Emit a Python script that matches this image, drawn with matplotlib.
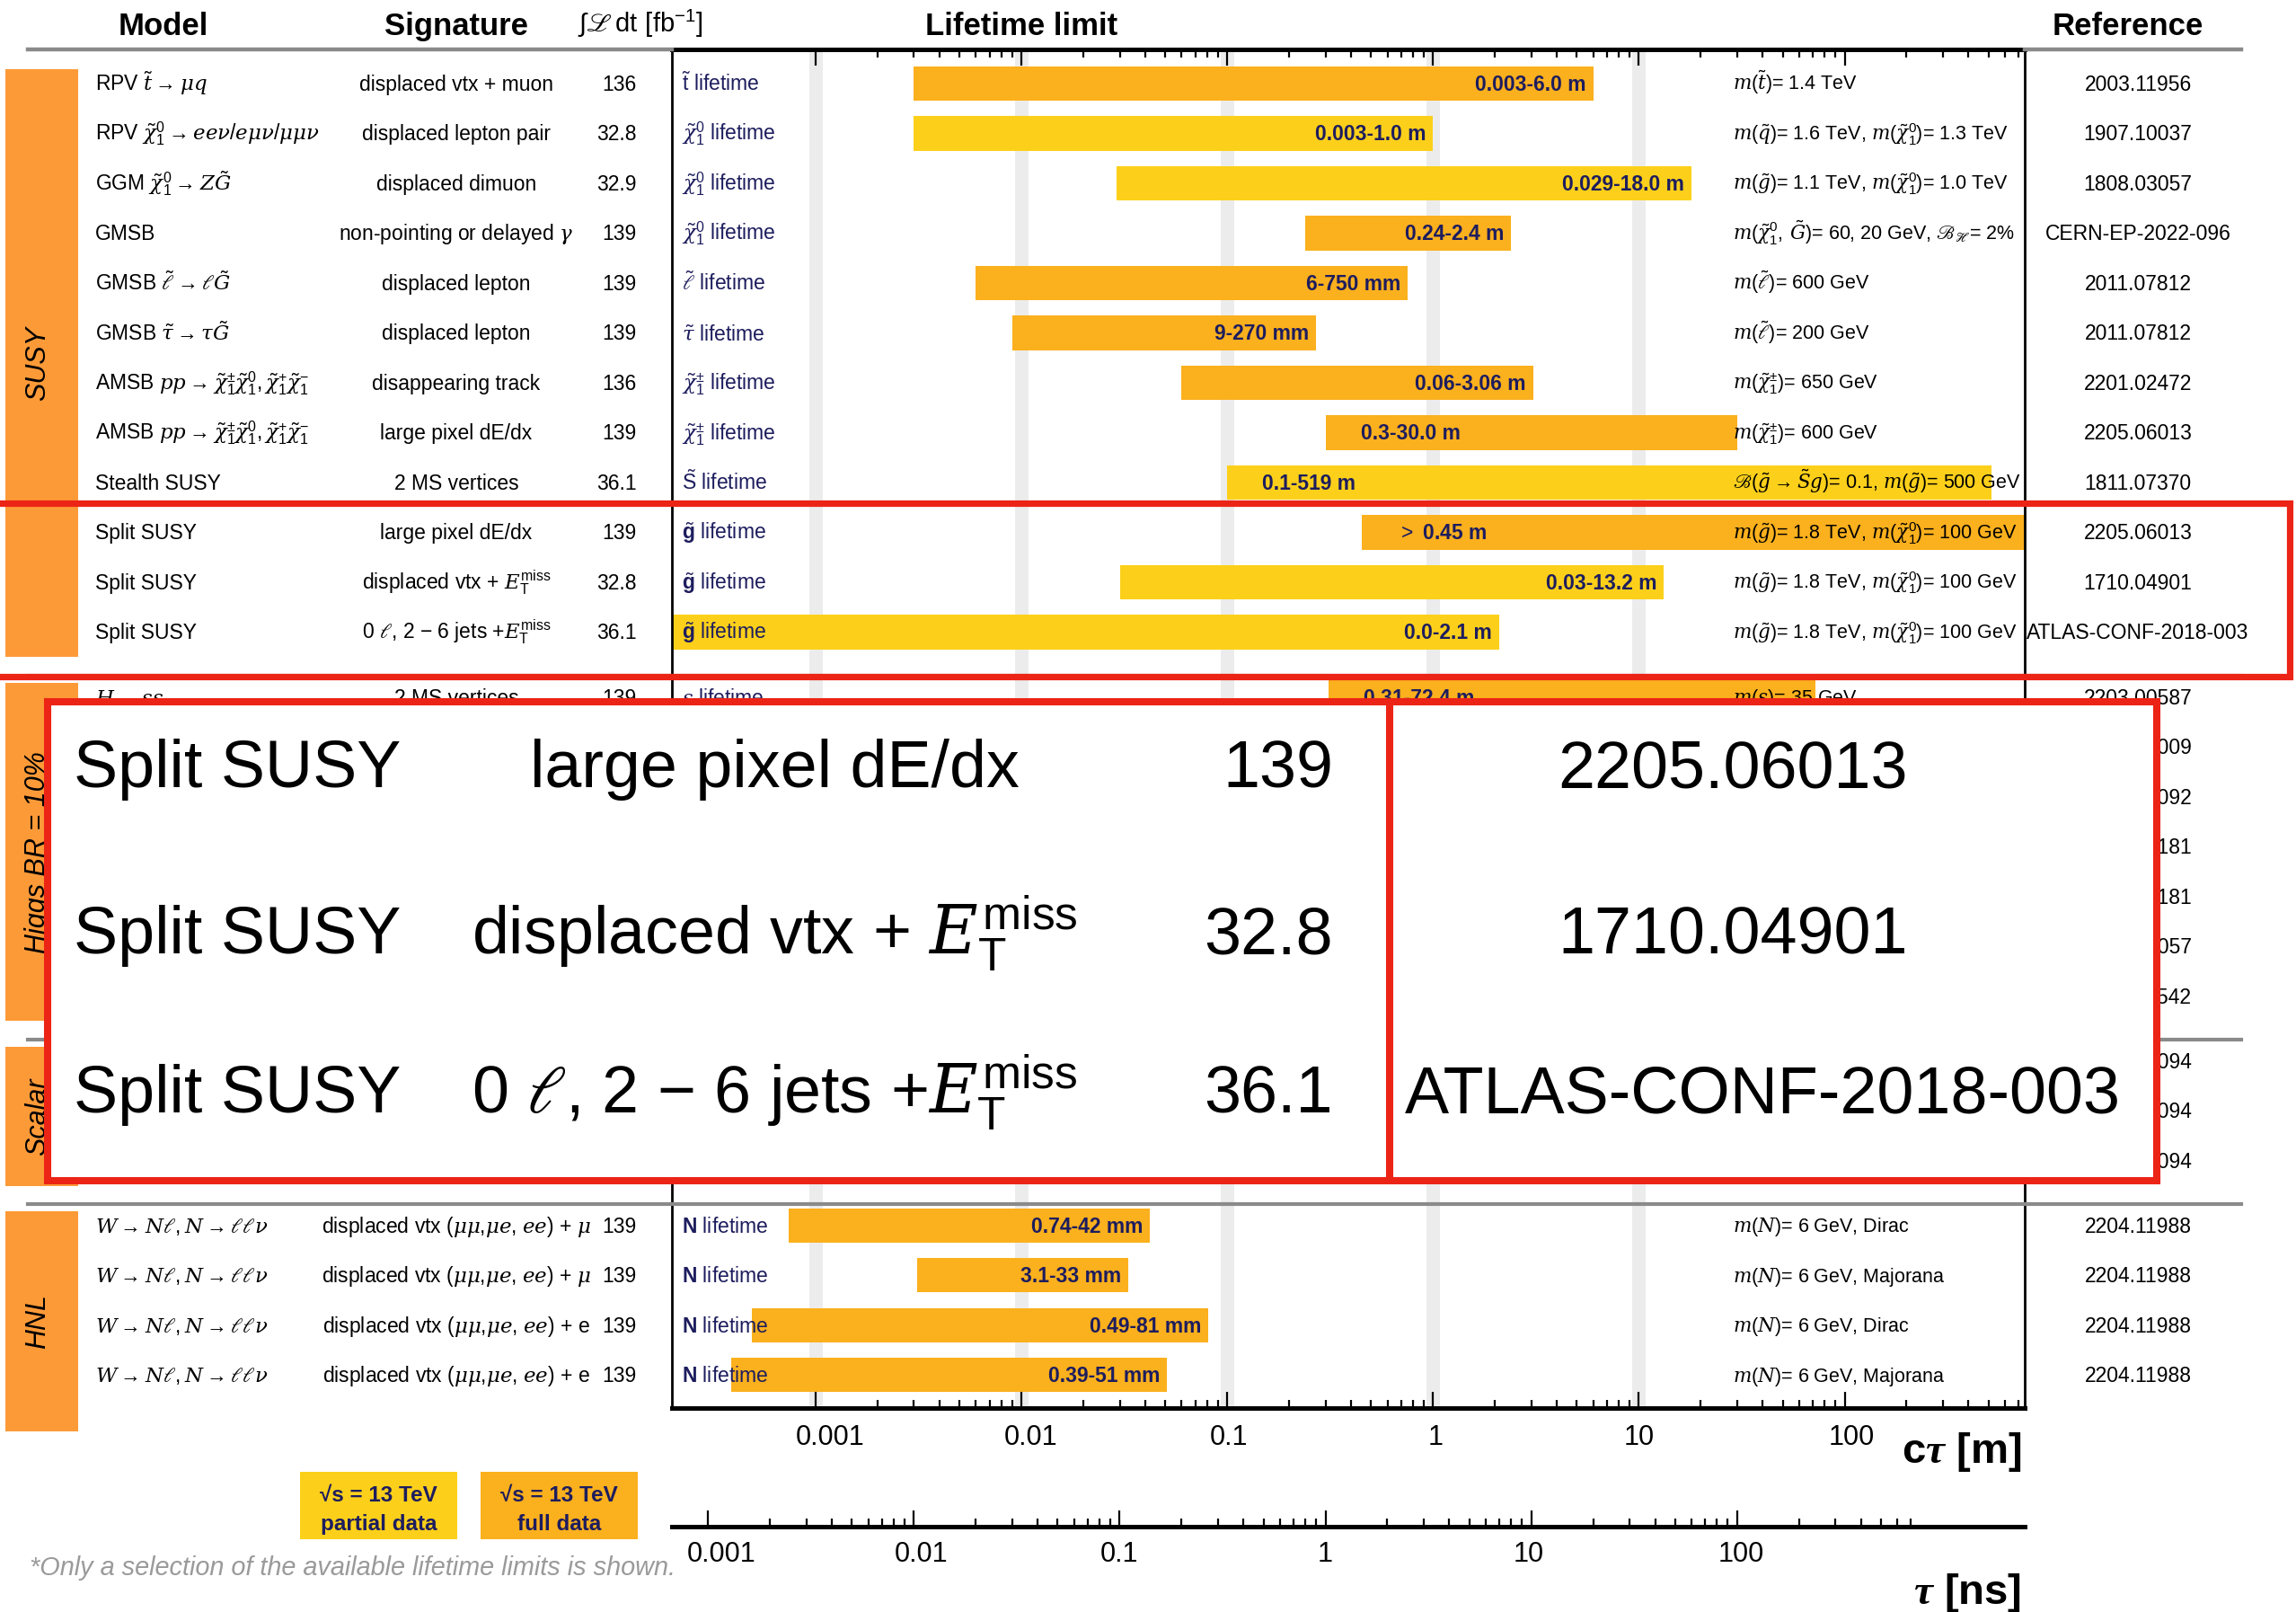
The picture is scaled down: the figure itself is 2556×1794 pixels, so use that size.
import numpy as np
import matplotlib
matplotlib.use("Agg")
import matplotlib.pyplot as plt
import matplotlib.transforms as mtrans
from matplotlib.patches import Rectangle
from matplotlib.lines import Line2D
from matplotlib.ticker import NullFormatter

plt.rcParams["font.family"] = ["Liberation Sans", "DejaVu Sans"]
plt.rcParams["mathtext.fontset"] = "custom"
plt.rcParams["mathtext.rm"] = "Liberation Sans"
plt.rcParams["mathtext.it"] = "DejaVu Serif:italic"
plt.rcParams["mathtext.bf"] = "Liberation Sans:bold"
plt.rcParams["mathtext.fallback"] = "stix"
try:
    plt.rcParams["mathtext.bfit"] = "Liberation Serif:italic:bold"
except KeyError:
    pass

# ---------------------------------------------------------------- data
sections = ["SUSY", "Higgs BR = 10%", "Scalar", "HNL"]
section_sizes = [12, 7, 3, 4]

models = [
    r"RPV $\tilde{t}\rightarrow\mu q$",
    r"RPV $\tilde{\chi}^{0}_{1}\rightarrow ee\nu/e\mu\nu/\mu\mu\nu$",
    r"GGM $\tilde{\chi}^{0}_{1}\rightarrow Z\tilde{G}$",
    "GMSB",
    r"GMSB $\tilde{\ell}\rightarrow\ell\tilde{G}$",
    r"GMSB $\tilde{\tau}\rightarrow\tau\tilde{G}$",
    r"AMSB $pp\rightarrow\tilde{\chi}^{\pm}_{1}\tilde{\chi}^{0}_{1},\tilde{\chi}^{+}_{1}\tilde{\chi}^{-}_{1}$",
    r"AMSB $pp\rightarrow\tilde{\chi}^{\pm}_{1}\tilde{\chi}^{0}_{1},\tilde{\chi}^{+}_{1}\tilde{\chi}^{-}_{1}$",
    "Stealth SUSY",
    "Split SUSY", "Split SUSY", "Split SUSY",
    r"$H\rightarrow ss$",
    r"$H\rightarrow ss$",
    r"$VH$, $H\rightarrow ss\rightarrow bbbb$",
    r"FRVZ $H\rightarrow 2\gamma_d+X$",
    r"FRVZ $H\rightarrow 4\gamma_d+X$",
    r"$H\rightarrow Z_dZ_d$",
    r"$H\rightarrow ZZ_d$",
    r"$\Phi$(200 GeV) $\rightarrow ss$",
    r"$\Phi$(600 GeV) $\rightarrow ss$",
    r"$\Phi$(1 TeV) $\rightarrow ss$",
    r"$W\rightarrow N\ell, N\rightarrow\ell\ell\nu$",
    r"$W\rightarrow N\ell, N\rightarrow\ell\ell\nu$",
    r"$W\rightarrow N\ell, N\rightarrow\ell\ell\nu$",
    r"$W\rightarrow N\ell, N\rightarrow\ell\ell\nu$",
]
signatures = [
    "displaced vtx + muon",
    "displaced lepton pair",
    "displaced dimuon",
    r"non-pointing or delayed $\gamma$",
    "displaced lepton",
    "displaced lepton",
    "disappearing track",
    "large pixel dE/dx",
    "2 MS vertices",
    "large pixel dE/dx",
    r"displaced vtx + $E_{\mathrm{T}}^{\mathrm{miss}}$",
    r"0 $\ell$, 2 $-$ 6 jets +$E_{\mathrm{T}}^{\mathrm{miss}}$",
    "2 MS vertices",
    "low-EMF trk-less jets",
    "1 ID vertex",
    r"2 $e$-, $\mu$-jets",
    r"2 $e$-, $\mu$-jets",
    "displaced dimuon",
    r"2 $e$, $\mu$ + low-EMF trk-less jet",
    "low-EMF trk-less jets",
    "low-EMF trk-less jets",
    "low-EMF trk-less jets",
    r"displaced vtx ($\mu\mu$,$\mu e$, $ee$) + $\mu$",
    r"displaced vtx ($\mu\mu$,$\mu e$, $ee$) + $\mu$",
    r"displaced vtx ($\mu\mu$,$\mu e$, $ee$) + e",
    r"displaced vtx ($\mu\mu$,$\mu e$, $ee$) + e",
]
lumis = ["136", "32.8", "32.9", "139", "139", "139", "136", "139", "36.1",
         "139", "32.8", "36.1",
         "139", "139", "139", "139", "139", "32.9", "36.1",
         "10.8", "10.8", "10.8",
         "139", "139", "139", "139"]
particles = [
    r"$\tilde{\mathrm{t}}$ lifetime",
    r"$\tilde{\chi}^{0}_{1}$ lifetime",
    r"$\tilde{\chi}^{0}_{1}$ lifetime",
    r"$\tilde{\chi}^{0}_{1}$ lifetime",
    r"$\tilde{\ell}$ lifetime",
    r"$\tilde{\tau}$ lifetime",
    r"$\tilde{\chi}^{\pm}_{1}$ lifetime",
    r"$\tilde{\chi}^{\pm}_{1}$ lifetime",
    r"$\tilde{\mathrm{S}}$ lifetime",
    r"$\tilde{\mathbf{g}}$ lifetime",
    r"$\tilde{\mathbf{g}}$ lifetime",
    r"$\tilde{\mathbf{g}}$ lifetime",
    r"$s$ lifetime", r"$s$ lifetime", r"$s$ lifetime",
    r"$\gamma_d$ lifetime", r"$\gamma_d$ lifetime",
    r"$Z_d$ lifetime", r"$Z_d$ lifetime",
    r"$s$ lifetime", r"$s$ lifetime", r"$s$ lifetime",
    r"$\mathbf{N}$ lifetime", r"$\mathbf{N}$ lifetime",
    r"$\mathbf{N}$ lifetime", r"$\mathbf{N}$ lifetime",
]
# c*tau limits in metres
ctau_lo = [0.003, 0.003, 0.029, 0.24, 0.006, 0.009, 0.06, 0.3, 0.1,
           0.45, 0.03, 0.0,
           0.31, 0.19, 0.004, 0.000654, 0.001871, 0.009, 0.21,
           0.41, 0.04, 0.06,
           0.00074, 0.0031, 0.00049, 0.00039]
ctau_hi = [6.0, 1.0, 18.0, 2.4, 0.75, 0.27, 3.06, 30.0, 519.0,
           np.inf, 13.2, 2.1,
           72.4, 6.94, 0.1, 0.939, 1.008, 24.0, 5.2,
           7.81, 21.5, 52.4,
           0.042, 0.033, 0.081, 0.051]
range_labels = ["0.003-6.0 m", "0.003-1.0 m", "0.029-18.0 m", "0.24-2.4 m",
                "6-750 mm", "9-270 mm", "0.06-3.06 m", "0.3-30.0 m", "0.1-519 m",
                r"$>$ 0.45 m", "0.03-13.2 m", "0.0-2.1 m",
                "0.31-72.4 m", "0.19-6.94 m", "4-100 mm", "0.654-939 mm",
                "1.871-1008 mm", "0.009-24.0 m", "0.21-5.2 m",
                "0.41-7.81 m", "0.04-21.5 m", "0.06-52.4 m",
                "0.74-42 mm", "3.1-33 mm", "0.49-81 mm", "0.39-51 mm"]
full_data = [True, False, False, True, True, True, True, True, False,
             True, False, False,
             True, True, True, True, True, False, False,
             False, False, False,
             True, True, True, True]
conditions = [
    r"$m(\tilde{t})$= 1.4 TeV",
    r"$m(\tilde{q})$= 1.6 TeV, $m(\tilde{\chi}^{0}_{1})$= 1.3 TeV",
    r"$m(\tilde{g})$= 1.1 TeV, $m(\tilde{\chi}^{0}_{1})$= 1.0 TeV",
    r"$m(\tilde{\chi}^{0}_{1},\,\tilde{G})$= 60, 20 GeV, $ℬ_{ℋ}$= 2%",
    r"$m(\tilde{\ell})$= 600 GeV",
    r"$m(\tilde{\ell})$= 200 GeV",
    r"$m(\tilde{\chi}^{\pm}_{1})$= 650 GeV",
    r"$m(\tilde{\chi}^{\pm}_{1})$= 600 GeV",
    r"$ℬ(\tilde{g}\rightarrow\tilde{S}g)$= 0.1, $m(\tilde{g})$= 500 GeV",
    r"$m(\tilde{g})$= 1.8 TeV, $m(\tilde{\chi}^{0}_{1})$= 100 GeV",
    r"$m(\tilde{g})$= 1.8 TeV, $m(\tilde{\chi}^{0}_{1})$= 100 GeV",
    r"$m(\tilde{g})$= 1.8 TeV, $m(\tilde{\chi}^{0}_{1})$= 100 GeV",
    r"$m(s)$= 35 GeV", r"$m(s)$= 35 GeV", r"$m(s)$= 55 GeV",
    r"$m(\gamma_d)$= 400 MeV", r"$m(\gamma_d)$= 400 MeV",
    r"$m(Z_d)$= 40 GeV", r"$m(Z_d)$= 10 GeV",
    r"$m(s)$= 50 GeV", r"$m(s)$= 50 GeV", r"$m(s)$= 150 GeV",
    r"$m(N)$= 6 GeV, Dirac", r"$m(N)$= 6 GeV, Majorana",
    r"$m(N)$= 6 GeV, Dirac", r"$m(N)$= 6 GeV, Majorana",
]
references = ["2003.11956", "1907.10037", "1808.03057", "CERN-EP-2022-096",
              "2011.07812", "2011.07812", "2201.02472", "2205.06013", "1811.07370",
              "2205.06013", "1710.04901", "ATLAS-CONF-2018-003",
              "2203.00587", "2203.01009", "2107.06092", "2206.12181",
              "2206.12181", "1808.03057", "1811.02542",
              "1902.03094", "1902.03094", "1902.03094",
              "2204.11988", "2204.11988", "2204.11988", "2204.11988"]

# magnified inset (Split SUSY rows)
inset_models = ["Split SUSY", "Split SUSY", "Split SUSY"]
inset_signatures = ["large pixel dE/dx",
                    r"displaced vtx + $E_{\mathrm{T}}^{\mathrm{miss}}$",
                    r"0 $\ell$, 2 $-$ 6 jets +$E_{\mathrm{T}}^{\mathrm{miss}}$"]
inset_lumis = ["139", "32.8", "36.1"]
inset_refs = ["2205.06013", "1710.04901", "ATLAS-CONF-2018-003"]

ctau_ticks = [0.001, 0.01, 0.1, 1, 10, 100]
ctau_ticklabels = ["0.001", "0.01", "0.1", "1", "10", "100"]
tau_ticks = [0.001, 0.01, 0.1, 1, 10, 100]
tau_ticklabels = ["0.001", "0.01", "0.1", "1", "10", "100"]
XMIN, XMAX = 2e-4, 750.0          # c*tau range [m]
TAU_MINOR_MAX = 700.0             # last minor tick on tau axis [ns]
C_M_PER_NS = 0.299792458

legend_texts = [("√s = 13 TeV", "partial data"), ("√s = 13 TeV", "full data")]
footnote = "*Only a selection of the available lifetime limits is shown."

# ---------------------------------------------------------------- style
FULL = "#FBB01D"
PART = "#FCD01A"
CAT = "#FD9A38"
RED = "#EC2416"
NAVY = "#1D1D5E"
GRAYL = "#8a8a8a"
BAND = "#ececec"
CTAU_LABEL_SHIFT = [16, 10, 2, 3, 0, 8]     # px, label placement as in the original
TAU_LABEL_SHIFT = [15, 8, 0, 0, -3, 5]

W, H, DPI = 2556, 1794, 100
fig = plt.figure(figsize=(W / DPI, H / DPI), dpi=DPI)
fig.patch.set_facecolor("white")
PX = mtrans.Affine2D().scale(1.0 / W, -1.0 / H).translate(0, 1) + fig.transFigure

ROW0, ROWH = 93.0, 55.5
GAP = 1.3
IL, IR, IT, IB = 53, 2401, 781, 1314      # inset box (pixels)


def py2d(p):
    return (p - ROW0) / ROWH


ypos, sec_rows, y = [], [], 0.0
for n in section_sizes:
    rows = [y + i for i in range(n)]
    ypos += rows
    sec_rows.append(rows)
    y = rows[-1] + GAP


def under_inset(yv):
    p = ROW0 + yv * ROWH
    return IT + 15 < p < IB - 5


AX_L, AX_R, AX_T, AX_B = 748, 2254, 55, 1567
ax = fig.add_axes([AX_L / W, 1 - AX_B / H, (AX_R - AX_L) / W, (AX_B - AX_T) / H])
ax.set_xscale("log")
ax.set_xlim(XMIN, XMAX)
ax.set_ylim(py2d(AX_B), py2d(AX_T))
ax.set_facecolor("none")
ax.set_yticks([])

for t in ctau_ticks[:-1]:
    ax.axvline(t, color=BAND, lw=15 * 0.72, zorder=0)


def cap(size):
    return 0.688 * size * DPI / 72.0


BAR_H = 0.685
LBL = 16.5
for yv, lo, hi, lab, fd in zip(ypos, ctau_lo, ctau_hi, range_labels, full_data):
    left = max(lo, XMIN)
    right = min(hi, XMAX)
    ax.barh(yv, right - left, left=left, height=BAR_H, color=FULL if fd else PART,
            lw=0, zorder=2)
    if under_inset(yv):
        continue
    off = -0.344 * LBL
    if hi > 20:
        ax.annotate(lab, xy=(left, yv), xytext=(39 * 0.72, off), textcoords="offset points",
                    ha="left", va="baseline", fontsize=LBL, fontweight="bold", color=NAVY, zorder=3)
    else:
        ax.annotate(lab, xy=(right, yv), xytext=(-8 * 0.72, off), textcoords="offset points",
                    ha="right", va="baseline", fontsize=LBL, fontweight="bold", color=NAVY, zorder=3)

minors = [k * 10.0 ** e for e in range(-3, 3) for k in range(2, 10) if k * 10.0 ** e <= XMAX]
ax.set_xticks(ctau_ticks)
ax.set_xticklabels(ctau_ticklabels)
ax.set_xticks(minors, minor=True)
ax.xaxis.set_minor_formatter(NullFormatter())
ax.tick_params(axis="x", which="both", direction="in", top=True, bottom=True,
               labelsize=22, pad=13, width=1.6)
ax.tick_params(axis="x", which="major", length=13)
ax.tick_params(axis="x", which="minor", length=6.5)
ax.spines["top"].set_linewidth(3.6)
ax.spines["bottom"].set_linewidth(3.6)
ax.spines["left"].set_linewidth(2.0)
ax.spines["right"].set_linewidth(2.0)
for lab, dx in zip(ax.get_xticklabels(), CTAU_LABEL_SHIFT):
    lab.set_transform(lab.get_transform() + mtrans.Affine2D().translate(dx, 0))

# tau axis
ax2 = fig.add_axes([AX_L / W, 1 - 1699 / H, (AX_R - AX_L) / W, 20 / H])
ax2.set_xscale("log")
ax2.set_xlim(XMIN / C_M_PER_NS, XMAX / C_M_PER_NS)
ax2.set_facecolor("none")
for s in ["top", "left", "right"]:
    ax2.spines[s].set_visible(False)
ax2.spines["bottom"].set_linewidth(3.6)
ax2.set_yticks([])
ax2.set_xticks(tau_ticks)
ax2.set_xticklabels(tau_ticklabels)
ax2.set_xticks([k * 10.0 ** e for e in range(-3, 3) for k in range(2, 10)
                if k * 10.0 ** e <= TAU_MINOR_MAX], minor=True)
ax2.xaxis.set_minor_formatter(NullFormatter())
ax2.tick_params(axis="x", which="both", direction="in", labelsize=22, pad=11.5, width=1.6)
ax2.tick_params(axis="x", which="major", length=13)
ax2.tick_params(axis="x", which="minor", length=6.5)
for lab, dx in zip(ax2.get_xticklabels(), TAU_LABEL_SHIFT):
    lab.set_transform(lab.get_transform() + mtrans.Affine2D().translate(dx, 0))

# row texts
BLEND = mtrans.blended_transform_factory(PX, ax.transData)


def rtext(x, yv, s, size=16.5, ha="left", **kw):
    tr = BLEND + mtrans.Affine2D().translate(0, -cap(size) / 2)
    fig.text(x, yv, s, transform=tr, fontsize=size, ha=ha, va="baseline", zorder=3, **kw)


for i, yv in enumerate(ypos):
    if not under_inset(yv):
        rtext(106, yv, models[i])
        rtext(508, yv, signatures[i], ha="center")
        rtext(709, yv, lumis[i], ha="right")
        rtext(759, yv, particles[i], color=NAVY)
        rtext(1929, yv, conditions[i], size=15.5)
    rtext(2380, yv, references[i], ha="center")

# section blocks and separators
for k, rows in enumerate(sec_rows):
    top = rows[0] - 0.28
    bot = rows[-1] + (1.13 if k == len(sec_rows) - 1 else 0.5)
    fig.add_artist(Rectangle((6, top), 81, bot - top, transform=BLEND, color=CAT, lw=0, zorder=1))
    fig.text(42, (top + bot) / 2, sections[k], transform=BLEND, rotation=90, ha="center",
             va="center", fontsize=22, style="italic", zorder=3)
    if k > 0:
        ysep = sec_rows[k - 1][-1] + 0.87
        fig.add_artist(Line2D([31, 2495], [ysep, ysep], transform=BLEND, color=GRAYL,
                              lw=3, zorder=4))

# header
fig.add_artist(Line2D([31, AX_L], [AX_T, AX_T], transform=PX, color=GRAYL, lw=3.2, zorder=4))
fig.add_artist(Line2D([AX_R, 2495], [AX_T, AX_T], transform=PX, color=GRAYL, lw=3.2, zorder=4))
HB = 27 + cap(25) / 2
fig.text(182, HB, "Model", transform=PX, fontsize=25, fontweight="bold", ha="center", va="baseline")
fig.text(508, HB, "Signature", transform=PX, fontsize=25, fontweight="bold", ha="center", va="baseline")
fig.text(1137, HB, "Lifetime limit", transform=PX, fontsize=25, fontweight="bold", ha="center", va="baseline")
fig.text(2369, HB, "Reference", transform=PX, fontsize=25, fontweight="bold", ha="center", va="baseline")
fig.text(643, 36, r"$\int ℒ\,\mathrm{dt}\ [\mathrm{fb}^{-1}]$", transform=PX, fontsize=21,
         ha="left", va="baseline")

# axis titles
fig.text(2250, 1628, r"c$\mathbfit{\tau}$ [m]", transform=PX, fontsize=34, fontweight="bold",
         ha="right", va="baseline")
fig.text(2250, 1785, r"$\mathbfit{\tau}$ [ns]", transform=PX, fontsize=34, fontweight="bold",
         ha="right", va="baseline")

# legend boxes
for (l1, l2), x0, col in zip(legend_texts, [334, 535], [PART, FULL]):
    fig.add_artist(Rectangle((x0, 1638), 175, 75, transform=PX, color=col, lw=0, zorder=1))
    fig.text(x0 + 87.5, 1663 + cap(17.5) / 2, l1, transform=PX, fontsize=17.5, fontweight="bold",
             color=NAVY, ha="center", va="baseline")
    fig.text(x0 + 87.5, 1695 + cap(17.5) / 2, l2, transform=PX, fontsize=17.5, fontweight="bold",
             color=NAVY, ha="center", va="baseline")

fig.text(33, 1743 + cap(20.8) / 2, footnote, transform=PX, fontsize=20.8, style="italic",
         color="#9a9a9a", ha="left", va="baseline")

# red highlight box around the Split SUSY rows
fig.add_artist(Rectangle((-20, 560), 2549 + 20, 753 - 560, transform=PX, fill=False,
                         ec=RED, lw=5.2, zorder=6))

# magnified inset
ins = fig.add_axes([IL / W, 1 - IB / H, (IR - IL) / W, (IB - IT) / H], zorder=10)
ins.set_xlim(IL, IR)
ins.set_ylim(IB, IT)
ins.set_facecolor("white")
ins.set_xticks([])
ins.set_yticks([])
for s in ins.spines.values():
    s.set_color(RED)
    s.set_linewidth(5.8)
ins.axvline(1547, color=RED, lw=5.8)
IS = 53
for yc, m, sg, lu, rf, rx in zip([851, 1036, 1213], inset_models, inset_signatures,
                                 inset_lumis, inset_refs, [1929, 1929, 1962]):
    yb = yc + cap(IS) / 2
    ins.text(82, yb, m, fontsize=IS, ha="left", va="baseline")
    ins.text(862, yb, sg, fontsize=IS, ha="center", va="baseline")
    ins.text(1484, yb, lu, fontsize=IS, ha="right", va="baseline")
    ins.text(rx, yb, rf, fontsize=IS, ha="center", va="baseline")

fig.savefig("out.png", dpi=DPI, facecolor="white")
